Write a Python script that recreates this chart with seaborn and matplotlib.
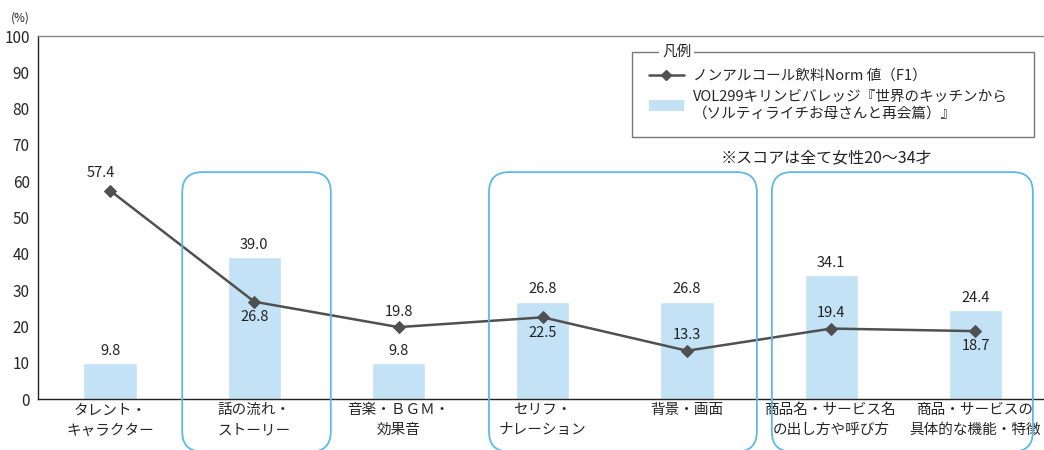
import matplotlib
matplotlib.use("Agg")
import matplotlib.pyplot as plt
import seaborn as sns
import numpy as np
import pandas as pd
from matplotlib.patches import FancyBboxPatch, Patch
from matplotlib.lines import Line2D

categories = ["タレント・\nキャラクター", "話の流れ・\nストーリー", "音楽・ＢＧＭ・\n効果音",
              "セリフ・\nナレーション", "背景・画面", "商品名・サービス名\nの出し方や呼び方",
              "商品・サービスの\n具体的な機能・特徴"]
bar_values = [9.8, 39.0, 9.8, 26.8, 26.8, 34.1, 24.4]
line_values = [57.4, 26.8, 19.8, 22.5, 13.3, 19.4, 18.7]
line_name = "ノンアルコール飲料Norm 値（F1）"
bar_name = "VOL299キリンビバレッジ『世界のキッチンから\n（ソルティライチお母さんと再会篇）』"
note = "※スコアは全て女性20〜34才"
yticks = [0, 10, 20, 30, 40, 50, 60, 70, 80, 90, 100]

sns.set_style("white")
plt.rcParams['font.family'] = ['Noto Sans CJK JP', 'DejaVu Sans']

BAR_C = "#C3E2F5"
LINE_C = "#505050"
BOX_C = "#5CB9E9"

fig = plt.figure(figsize=(10.44, 4.5), dpi=100)
ax = fig.add_axes([38/1044, 1-399/450, 1-38/1044, (399-36)/450])

df = pd.DataFrame({"cat": categories, "bar": bar_values, "line": line_values, "x": range(len(categories))})
sns.barplot(data=df, x="cat", y="bar", color=BAR_C, width=0.37, ax=ax, saturation=1, zorder=2)
sns.lineplot(data=df, x="x", y="line", color=LINE_C, marker="D", markersize=6,
             markeredgecolor=LINE_C, linewidth=1.8, ax=ax, zorder=4)

ax.set_xlim(-0.5, 6.475)
ax.set_ylim(0, 100)
ax.set_yticks(yticks)
ax.set_xticks(range(len(categories)))
ax.set_xticklabels(categories, fontsize=10.5, linespacing=1.55)
ax.set_xlabel("")
ax.set_ylabel("")
ax.tick_params(axis='y', direction='in', length=3, width=0.8, labelsize=11, pad=6, color='#333333')
ax.tick_params(axis='x', which='major', length=0, pad=3)
ax.set_xticks(np.arange(0.5, 6.5, 1), minor=True)
ax.tick_params(axis='x', which='minor', direction='in', length=3, width=0.8, color='#333333')

for s in ['left', 'bottom']:
    ax.spines[s].set_color('#222222')
    ax.spines[s].set_linewidth(1.0)
ax.spines['right'].set_visible(False)
ax.spines['top'].set_color('#888888')
ax.spines['top'].set_linewidth(1.0)

fs = 10.5
# bar labels
for i, v in enumerate(bar_values):
    ax.annotate(f"{v:.1f}", (i, v), xytext=(0, 4), textcoords='offset points',
                ha='center', va='bottom', fontsize=fs, color='#222222', zorder=5)
# line labels
line_pos = [(-7, 8, 'bottom'), (0, -6, 'top'), (0, 6, 'bottom'), (0, -6, 'top'),
            (0, 6, 'bottom'), (0, 6, 'bottom'), (0, -6, 'top')]
for i, v in enumerate(line_values):
    dx, dy, va = line_pos[i]
    ax.annotate(f"{v:.1f}", (i, v), xytext=(dx, dy), textcoords='offset points',
                ha='center', va=va, fontsize=fs, color='#222222', zorder=5)

# rounded group boxes
groups = [(0.5, 1.53), (2.627, 4.484), (4.588, 6.398)]
xunit = 1006 / 6.975
yunit = 363 / 100
r = 20 / xunit
bottom = -14.5
for x0, x1 in groups:
    p = FancyBboxPatch((x0, bottom), x1 - x0, 62.5 - bottom,
                       boxstyle=f"round,pad=0,rounding_size={r}",
                       mutation_aspect=xunit / yunit,
                       fill=False, edgecolor=BOX_C, linewidth=1.3,
                       clip_on=False, zorder=6, transform=ax.transData)
    ax.add_patch(p)

# legend
handles = [Line2D([0], [0], color=LINE_C, marker='D', markersize=5, linewidth=1.8),
           Patch(facecolor=BAR_C, edgecolor='none')]
leg = ax.legend(handles, [line_name, bar_name], loc='upper left',
                bbox_to_anchor=(0.5905, 0.727, 0.3995, 0.229), mode='expand',
                borderaxespad=0, frameon=True, fancybox=False,
                edgecolor='#555555', fontsize=10.5, handlelength=2.4,
                borderpad=1.15, labelspacing=0.5, handletextpad=0.6)
leg.get_frame().set_linewidth(1.0)
ax.text(0.635, 0.956, "凡例", transform=ax.transAxes, ha='center', va='center',
        fontsize=10.5, color='#222222', zorder=10,
        bbox=dict(facecolor='white', edgecolor='none', pad=2))
ax.text(0.784, 0.665, note, transform=ax.transAxes, ha='center', va='center',
        fontsize=11.5, color='#222222')

fig.text(20/1044, 1-18/450, "(%)", ha='center', va='center', fontsize=8.5, color='#222222')

fig.savefig("out.png", dpi=100)
